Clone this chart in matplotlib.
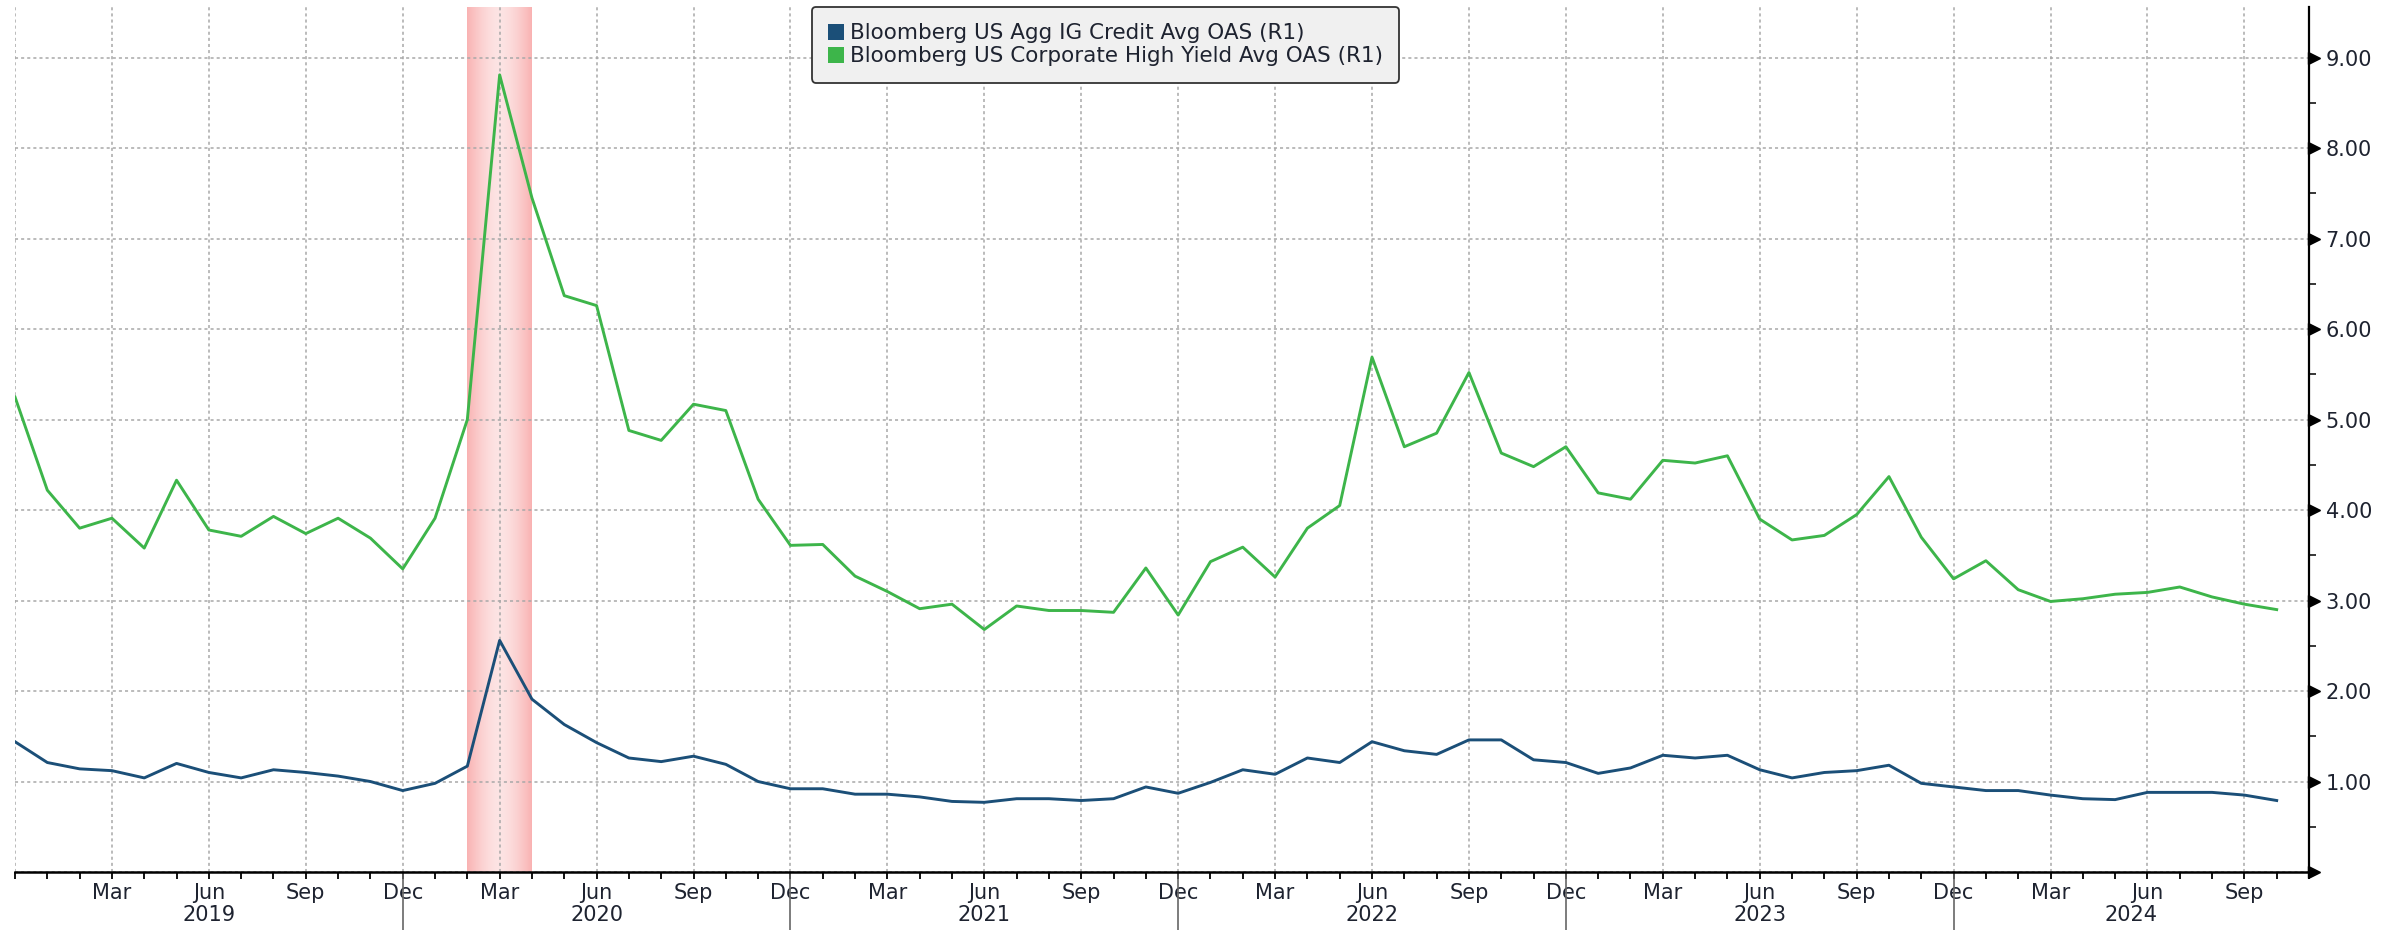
import numpy as np
import matplotlib
matplotlib.use("Agg")
import matplotlib.pyplot as plt
from matplotlib.patches import Patch
from matplotlib.colors import to_rgb
import matplotlib.transforms as mtransforms

# monthly OAS, Dec 2018 .. Oct 2024 (index 0 = Dec 2018)
ig_oas = [1.44, 1.21, 1.14, 1.12, 1.04, 1.20, 1.10, 1.04, 1.13, 1.10, 1.06, 1.00,
          0.90, 0.98, 1.17, 2.56, 1.91, 1.63, 1.43, 1.26, 1.22, 1.28, 1.19, 1.00,
          0.92, 0.92, 0.86, 0.86, 0.83, 0.78, 0.77, 0.81, 0.81, 0.79, 0.81, 0.94,
          0.87, 0.99, 1.13, 1.08, 1.26, 1.21, 1.44, 1.34, 1.30, 1.46, 1.46, 1.24,
          1.21, 1.09, 1.15, 1.29, 1.26, 1.29, 1.13, 1.04, 1.10, 1.12, 1.18, 0.98,
          0.94, 0.90, 0.90, 0.85, 0.81, 0.80, 0.88, 0.88, 0.88, 0.85, 0.79]
hy_oas = [5.25, 4.22, 3.80, 3.91, 3.58, 4.33, 3.78, 3.71, 3.93, 3.74, 3.91, 3.69,
          3.35, 3.91, 5.00, 8.81, 7.45, 6.37, 6.26, 4.88, 4.77, 5.17, 5.10, 4.12,
          3.61, 3.62, 3.27, 3.10, 2.91, 2.96, 2.68, 2.94, 2.89, 2.89, 2.87, 3.36,
          2.84, 3.43, 3.59, 3.26, 3.80, 4.05, 5.69, 4.70, 4.85, 5.52, 4.63, 4.48,
          4.70, 4.19, 4.12, 4.55, 4.52, 4.60, 3.90, 3.67, 3.72, 3.95, 4.37, 3.70,
          3.24, 3.44, 3.12, 2.99, 3.02, 3.07, 3.09, 3.15, 3.04, 2.96, 2.90]
quarter_labels = ["", "Mar", "Jun", "Sep", "Dec"]
years = ["2019", "2020", "2021", "2022", "2023", "2024"]
recession = (14, 16)  # Feb 2020 .. Apr 2020

ig_color = "#1b4f78"
hy_color = "#3db54a"
text_color = "#1e2330"

fig = plt.figure(figsize=(23.94, 9.3), dpi=100)
ax = fig.add_axes([15 / 2394, 58 / 930, (2309 - 15) / 2394, (872 - 7) / 930])

x = np.arange(len(hy_oas))
x_max = 71
y_max = 9.56

# recession shading with a soft gradient
edge = np.array(to_rgb("#f9b2b2"))
centre = np.array(to_rgb("#fde4e4"))
t = np.abs(np.linspace(-1, 1, 200)) ** 1.6
grad = centre + (edge - centre) * t[:, None]
ax.imshow(grad[None, :, :], extent=[recession[0], recession[1], 0, y_max],
          aspect="auto", zorder=1, interpolation="bilinear")

ax.plot(x, ig_oas, color=ig_color, lw=2.1, zorder=4)
ax.plot(x, hy_oas, color=hy_color, lw=2.1, zorder=4)

ax.set_xlim(0, x_max)
ax.set_ylim(0, y_max)

# x axis: quarterly major, monthly minor
major = np.arange(0, x_max, 3)
ax.set_xticks(major)
ax.set_xticklabels([quarter_labels[0] if i == 0 else quarter_labels[1 + ((i // 3) - 1) % 4] for i in major])
ax.set_xticks(np.arange(0, x_max + 1), minor=True)
ax.tick_params(axis="x", which="both", direction="out", length=5, width=1.3,
               color="black", labelsize=15, labelcolor=text_color, pad=3)

# y axis on the right
ax.yaxis.tick_right()
ax.set_yticks(np.arange(1, 10))
ax.set_yticklabels([f"{v:.2f}" for v in range(1, 10)])
ax.set_yticks(np.arange(0.5, 9.5, 1.0), minor=True)
ax.tick_params(axis="y", which="major", length=0, pad=12, labelsize=15, labelcolor=text_color)
ax.tick_params(axis="y", which="minor", direction="out", length=5, width=1.1, color="black")

tri = mtransforms.offset_copy(ax.get_yaxis_transform(), fig=fig, x=5, y=0, units="dots")
ax.plot([1] * 10, np.arange(0, 10), linestyle="none", marker=">", markersize=8,
        color="black", transform=tri, clip_on=False, zorder=6)

# grid
ax.grid(True, which="major", axis="both", color="#a8a8a8", lw=1.1, linestyle=(0, (2, 2)))
ax.axhline(0, color="#a8a8a8", lw=1.1, linestyle=(0, (2, 2)), zorder=2)
for side in ["top", "left"]:
    ax.spines[side].set_visible(False)
ax.spines["right"].set_linewidth(1.6)
ax.spines["bottom"].set_linewidth(1.8)

# year separators and labels
ytrans = ax.get_xaxis_transform()
bounds = [0, 12, 24, 36, 48, 60, x_max]
for b in bounds[1:-1]:
    ax.plot([b, b], [0, -0.08], color="#666666", lw=1.2, transform=ytrans, clip_on=False)
for i, yr in enumerate(years):
    ax.text((bounds[i] + bounds[i + 1]) / 2, -0.05, yr, transform=ytrans,
            ha="center", va="center", fontsize=15, color=text_color)

# legend
handles = [Patch(facecolor=ig_color, edgecolor="none"), Patch(facecolor=hy_color, edgecolor="none")]
labels = ["Bloomberg US Agg IG Credit Avg OAS (R1)", "Bloomberg US Corporate High Yield Avg OAS (R1)"]
leg = fig.legend(handles, labels, loc="upper left", bbox_to_anchor=(812 / 2394, 923 / 930),
                 fontsize=15.5, frameon=True, fancybox=True, framealpha=1,
                 facecolor="#f0f0f0", edgecolor="#333333",
                 handlelength=0.75, handleheight=0.75, handletextpad=0.25,
                 labelspacing=0.15, borderpad=0.75, borderaxespad=0)
leg.get_frame().set_linewidth(1.3)
leg.get_frame().set_boxstyle("round", pad=0, rounding_size=0.2)
for txt in leg.get_texts():
    txt.set_color(text_color)

fig.savefig("out.png", dpi=100)
